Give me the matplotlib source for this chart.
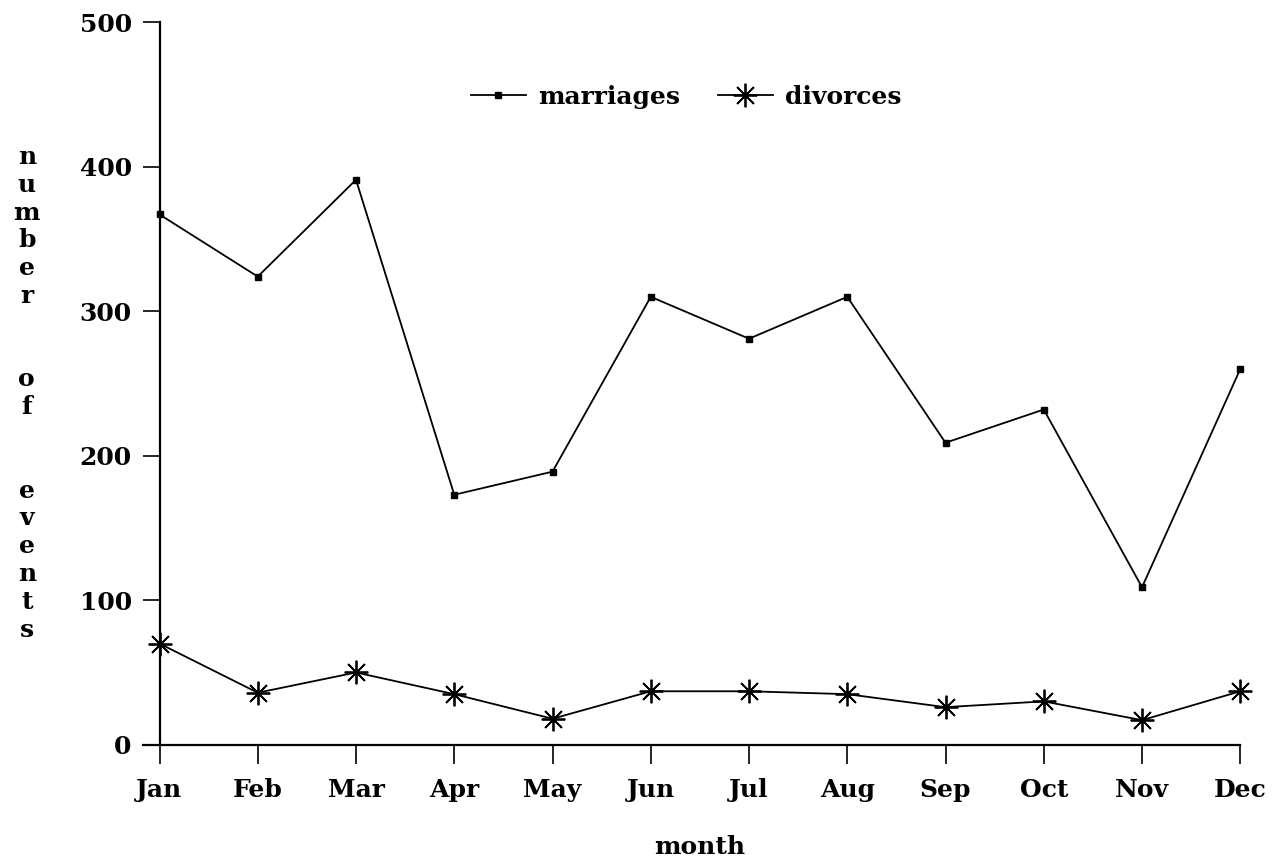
import matplotlib
matplotlib.use('Agg')

import matplotlib.pyplot as plt

months = ["Jan", "Feb", "Mar", "Apr", "May", "Jun",
          "Jul", "Aug", "Sep", "Oct", "Nov", "Dec"]
marriages = [367, 324, 391, 173, 189, 310, 281, 310, 209, 232, 109, 260]
divorces = [70, 36, 50, 35, 18, 37, 37, 35, 26, 30, 17, 37]

plt.rcParams['font.family'] = ['DejaVu Serif']
plt.rcParams['font.size'] = 18
plt.rcParams['font.weight'] = 'bold'
plt.rcParams['axes.labelweight'] = 'bold'

fig = plt.figure(figsize=(12.76, 8.57), dpi=100)
ax = fig.add_axes([0.125, 0.131, 0.847, 0.843])

x = list(range(len(months)))
ax.plot(x, marriages, color="black", lw=1.3, marker='s', markersize=4.5,
        label="marriages", clip_on=False)
ax.plot(x, divorces, color="black", lw=1.3, marker=(8, 2, 0), markersize=17,
        markeredgewidth=1.3, label="divorces", clip_on=False)

ax.set_xlim(0, 11)
ax.set_ylim(0, 500)
ax.set_xticks(x)
ax.set_xticklabels(months)
ax.set_yticks([0, 100, 200, 300, 400, 500])

for s in ["top", "right"]:
    ax.spines[s].set_visible(False)
ax.spines["left"].set_linewidth(1.6)
ax.spines["bottom"].set_linewidth(1.6)
ax.spines["bottom"].set_bounds(-0.17, 11)
ax.tick_params(axis='both', direction='out', width=1.2, labelsize=18)
ax.tick_params(axis='x', pad=10, length=14)
ax.tick_params(axis='y', pad=8, length=12)

ax.set_xlabel("month", labelpad=24, fontsize=18)
fig.text(0.021, 0.541, "\n".join("number of events".replace(" ", "  ")),
         ha='center', va='center', fontsize=18, linespacing=1.2)

ax.legend(loc='center', bbox_to_anchor=(0.538, 0.887),
          bbox_transform=fig.transFigure, ncol=2, frameon=False,
          handlelength=2.2, columnspacing=1.5, handletextpad=0.5,
          fontsize=18)

fig.savefig("out.png", dpi=100, facecolor="white")
